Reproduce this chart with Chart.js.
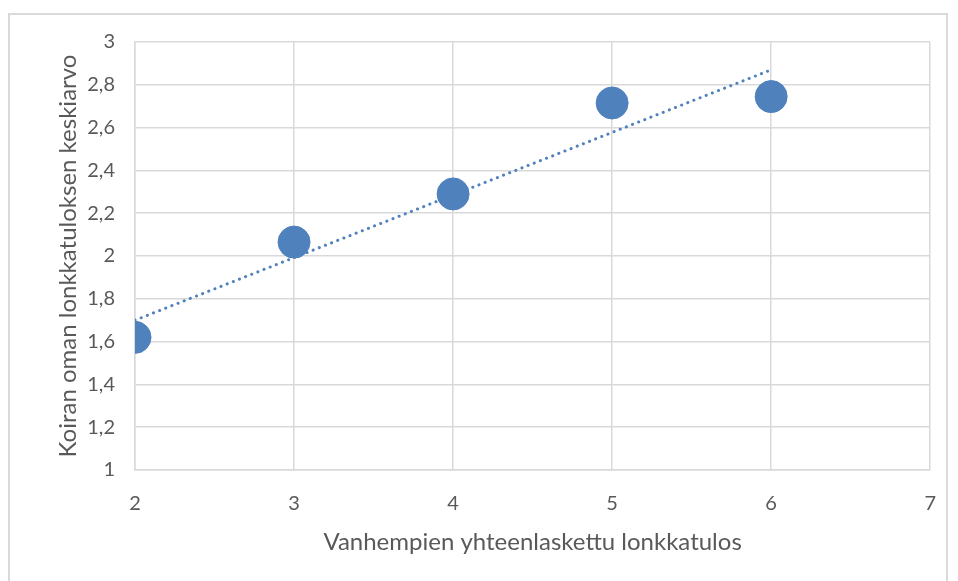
<!DOCTYPE html>
<html>
<head>
<meta charset="utf-8">
<script src="https://cdn.jsdelivr.net/npm/chart.js@4"></script>
<style>
  html, body { margin: 0; padding: 0; background: #fff; }
  #wrap { position: relative; width: 958px; height: 581px; }
  #frame { position: absolute; left: 8px; top: 13px; width: 940px; height: 575px; border: 2px solid #d9d9d9; box-sizing: border-box; }
  canvas { position: absolute; left: 0; top: 0; }
</style>
</head>
<body>
<div id="wrap">
  <div id="frame"></div>
  <canvas id="chart" width="958" height="581"></canvas>
</div>
<script>
// Parent hip score sum vs. dog's own hip score mean
const parentScores = [2, 3, 4, 5, 6];
const dogMeans = [1.62, 2.065, 2.29, 2.715, 2.745];

// dotted linear trendline, endpoints
const trendX = [2, 6];
const trendY = [1.70, 2.87];

const xTitle = "Vanhempien yhteenlaskettu lonkkatulos";
const yTitle = "Koiran oman lonkkatuloksen keskiarvo";

const fontFamily = "Lato, 'Open Sans', sans-serif";
const textColor = "#595959";
const gridColor = "#d9d9d9";
const pointColor = "#4f81bd";

function toPoints(xs, ys) {
  return xs.map((x, i) => ({ x: x, y: ys[i] }));
}

// Finnish decimal comma
function formatTick(value) {
  return Number(value.toFixed(1)).toString().replace(".", ",");
}

const ctx = document.getElementById("chart");

new Chart(ctx, {
  type: "scatter",
  data: {
    datasets: [
      {
        label: "Trendline",
        type: "line",
        data: toPoints(trendX, trendY),
        borderColor: pointColor,
        borderWidth: 3,
        borderDash: [0.1, 6.5],
        borderCapStyle: "round",
        pointRadius: 0,
        fill: false,
        order: 2
      },
      {
        label: "Keskiarvo",
        data: toPoints(parentScores, dogMeans),
        backgroundColor: pointColor,
        borderColor: pointColor,
        pointRadius: 16,
        pointHoverRadius: 16,
        order: 1
      }
    ]
  },
  options: {
    responsive: false,
    animation: false,
    layout: { padding: { top: 42, right: 24, left: 54, bottom: 20 } },
    plugins: {
      legend: { display: false },
      tooltip: { enabled: false }
    },
    scales: {
      x: {
        type: "linear",
        min: 2,
        max: 7,
        ticks: {
          stepSize: 1,
          color: textColor,
          padding: 22,
          font: { family: fontFamily, size: 20 }
        },
        grid: { color: gridColor, lineWidth: 1.5, drawTicks: false },
        border: { color: gridColor, width: 1.5 },
        title: {
          display: true,
          text: xTitle,
          color: textColor,
          font: { family: fontFamily, size: 24 },
          padding: { top: 10 }
        },
        afterFit: (scale) => { scale.height = 91; }
      },
      y: {
        min: 1,
        max: 3,
        ticks: {
          stepSize: 0.2,
          color: textColor,
          padding: 20,
          font: { family: fontFamily, size: 20 },
          callback: (value) => formatTick(value)
        },
        grid: { color: gridColor, lineWidth: 1.5, drawTicks: false },
        border: { color: gridColor, width: 1.5 },
        title: {
          display: true,
          text: yTitle,
          color: textColor,
          font: { family: fontFamily, size: 24 },
          padding: { top: 0, bottom: 0 }
        },
        afterFit: (scale) => { scale.width = 81; }
      }
    }
  }
});
</script>
</body>
</html>
